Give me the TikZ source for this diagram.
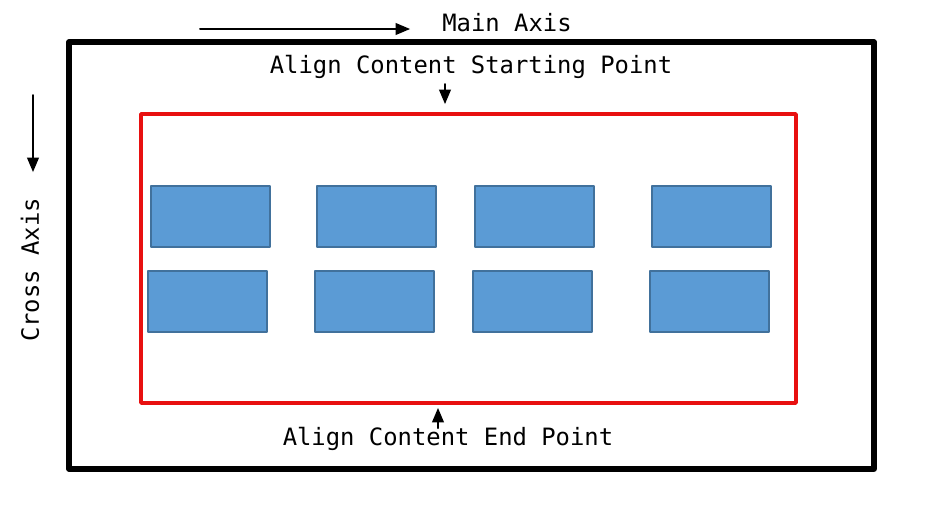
\documentclass[tikz,border=0pt]{standalone}
\usepackage{fontspec}
\setmonofont{DejaVu Sans Mono}
\usetikzlibrary{arrows}
\definecolor{itemfill}{HTML}{5B9BD5}
\definecolor{itemline}{HTML}{41719C}
\definecolor{areared}{HTML}{E81010}
\tikzset{
  item/.style={draw=itemline,fill=itemfill,line width=1.8pt,minimum width=89.25pt,minimum height=45.75pt,inner sep=0pt},
  lbl/.style={font=\ttfamily\fontsize{17.9}{21}\selectfont,inner sep=0pt}
}
\begin{document}
\begin{tikzpicture}[line cap=round,line join=round,>=triangle 45,x=0.75pt,y=-0.75pt]
\useasboundingbox (0,0) rectangle (925,512);
% container and content area
\draw[line width=3.8pt] (69,42) rectangle (874,469);
\draw[areared,line width=2.6pt] (141,114) rectangle (796,403);
% items
\node[item] (i1) at (210.5,216.5) {};
\node[item] (i2) at (376.5,216.5) {};
\node[item] (i3) at (534.5,216.5) {};
\node[item] (i4) at (711.5,216.5) {};
\node[item] (i5) at (207.5,301.5) {};
\node[item] (i6) at (374.5,301.5) {};
\node[item] (i7) at (532.5,301.5) {};
\node[item] (i8) at (709.5,301.5) {};
% labels
\node[lbl] (main) at (507,23) {Main Axis};
\node[lbl] (start) at (471,67) {Align Content Starting Point};
\node[lbl] (end) at (448,439) {Align Content End Point};
\node[lbl,rotate=90] (cross) at (30,270) {Cross Axis};
% axis arrows
\coordinate (ma1) at (200,29);
\coordinate (ma2) at (410,29);
\coordinate (ca1) at (33,95);
\coordinate (ca2) at (33,172);
\draw[->,line width=1.5pt] (ma1) -- (ma2);
\draw[->,line width=1.5pt] (ca1) -- (ca2);
% start / end markers
\coordinate (s1) at (445,84);
\coordinate (s2) at (445,104);
\coordinate (e1) at (438,428);
\coordinate (e2) at (438,408);
\draw[->,line width=1.5pt] (s1) -- (s2);
\draw[->,line width=1.5pt] (e1) -- (e2);
\end{tikzpicture}
\end{document}
